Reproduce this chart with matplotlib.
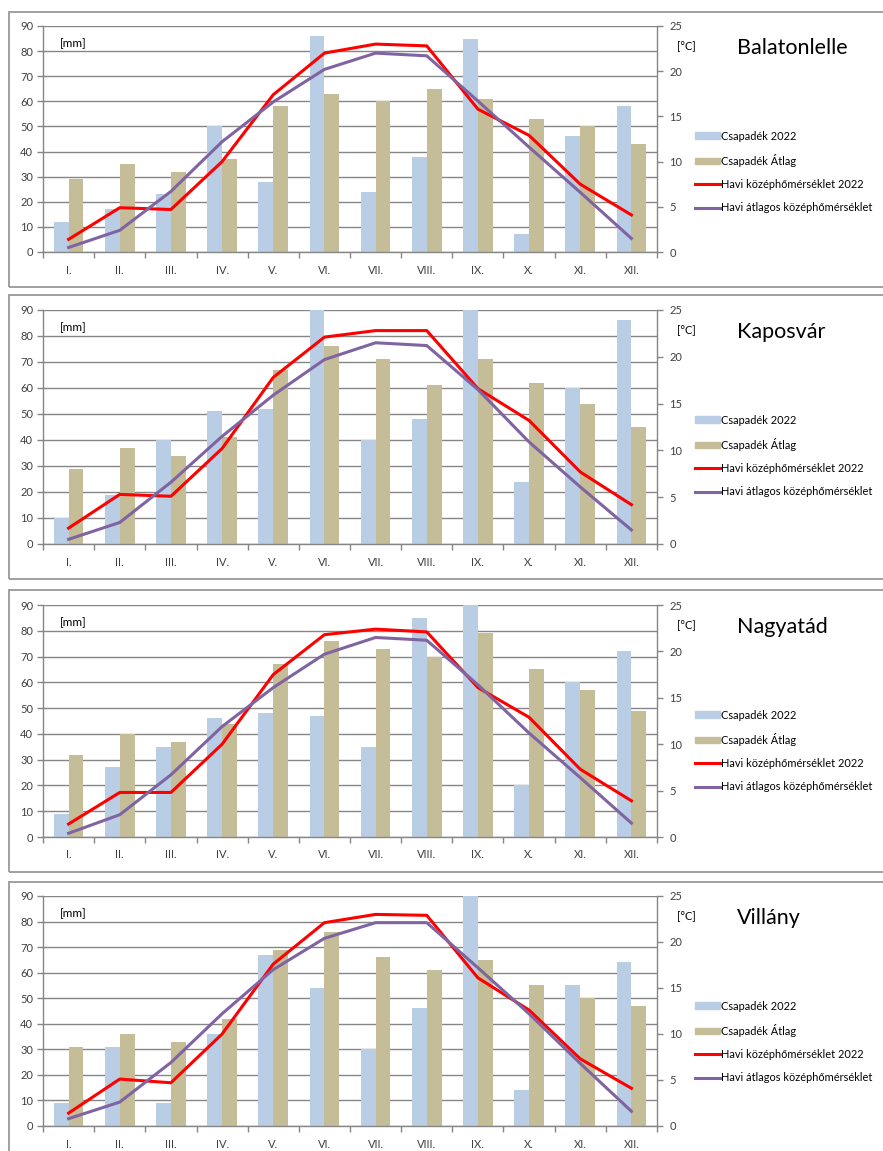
import numpy as np
import matplotlib
matplotlib.use("Agg")
import matplotlib.pyplot as plt
from matplotlib.patches import Rectangle, Patch
from matplotlib.lines import Line2D

plt.rcParams['font.family'] = ['Lato', 'DejaVu Sans']

months = ["I.", "II.", "III.", "IV.", "V.", "VI.", "VII.", "VIII.", "IX.", "X.", "XI.", "XII."]
stations = ["Balatonlelle", "Kaposvár", "Nagyatád", "Villány"]

# precipitation 2022 [mm]
rain_2022_balatonlelle = [12, 17, 23, 50, 28, 86, 24, 38, 85, 7, 46, 58]
rain_2022_kaposvar = [10, 19, 40, 51, 52, 90, 40, 48, 90, 24, 60, 86]
rain_2022_nagyatad = [9, 27, 35, 46, 48, 47, 35, 85, 90, 20, 60, 72]
rain_2022_villany = [9, 31, 9, 36, 67, 54, 30, 46, 90, 14, 55, 64]

# long-term average precipitation [mm]
rain_avg_balatonlelle = [29, 35, 32, 37, 58, 63, 60, 65, 61, 53, 50, 43]
rain_avg_kaposvar = [29, 37, 34, 41, 67, 76, 71, 61, 71, 62, 54, 45]
rain_avg_nagyatad = [32, 40, 37, 44, 67, 76, 73, 70, 79, 65, 57, 49]
rain_avg_villany = [31, 36, 33, 42, 69, 76, 66, 61, 65, 55, 50, 47]

# monthly mean temperature 2022 [°C]
temp_2022_balatonlelle = [1.4, 4.9, 4.7, 10.0, 17.4, 22.0, 23.0, 22.8, 15.8, 12.9, 7.5, 4.1]
temp_2022_kaposvar = [1.7, 5.3, 5.1, 10.2, 17.8, 22.1, 22.8, 22.8, 16.6, 13.2, 7.7, 4.2]
temp_2022_nagyatad = [1.4, 4.8, 4.8, 10.0, 17.5, 21.8, 22.4, 22.1, 16.1, 12.9, 7.3, 3.9]
temp_2022_villany = [1.4, 5.1, 4.7, 10.0, 17.6, 22.1, 23.0, 22.9, 16.1, 12.6, 7.3, 4.1]

# long-term average monthly temperature [°C]
temp_avg_balatonlelle = [0.5, 2.4, 6.7, 12.2, 16.6, 20.2, 22.0, 21.7, 16.7, 11.6, 6.6, 1.5]
temp_avg_kaposvar = [0.5, 2.3, 6.6, 11.5, 15.9, 19.7, 21.5, 21.2, 16.5, 10.9, 6.1, 1.5]
temp_avg_nagyatad = [0.4, 2.4, 6.7, 11.9, 16.1, 19.7, 21.5, 21.2, 16.4, 11.2, 6.4, 1.5]
temp_avg_villany = [0.8, 2.6, 6.9, 12.2, 17.0, 20.4, 22.1, 22.1, 17.2, 12.2, 6.8, 1.6]

rain_2022 = [rain_2022_balatonlelle, rain_2022_kaposvar, rain_2022_nagyatad, rain_2022_villany]
rain_avg = [rain_avg_balatonlelle, rain_avg_kaposvar, rain_avg_nagyatad, rain_avg_villany]
temp_2022 = [temp_2022_balatonlelle, temp_2022_kaposvar, temp_2022_nagyatad, temp_2022_villany]
temp_avg = [temp_avg_balatonlelle, temp_avg_kaposvar, temp_avg_nagyatad, temp_avg_villany]

W, H = 883, 1151
fig = plt.figure(figsize=(W / 100, H / 100), dpi=100)

# pixel layout: (frame top, frame bottom, plot top, plot bottom)
panels = [(12, 287, 26, 252), (295, 579, 310, 544), (590, 872, 605, 837), (882, 1165, 896, 1126)]
left_px, right_px = 43, 657

blue = '#B9CDE5'
tan = '#C4BD97'
red = '#FF0000'
purple = '#8064A2'
axis_col = '#868686'
txt_col = '#404040'

x = np.arange(12)
w = 0.29

for i, (ft, fb, pt, pb) in enumerate(panels):
    # panel frame
    fig.patches.append(Rectangle((9 / W, 1 - fb / H), 1.0, (fb - ft) / H,
                                 transform=fig.transFigure, fill=False,
                                 edgecolor='#999999', linewidth=1.3))

    ax = fig.add_axes([left_px / W, 1 - pb / H, (right_px - left_px) / W, (pb - pt) / H])
    ax.set_facecolor('none')
    ax.bar(x - w / 2, rain_2022[i], width=w, color=blue, zorder=2)
    ax.bar(x + w / 2, rain_avg[i], width=w, color=tan, zorder=2)
    ax.set_xlim(-0.5, 11.5)
    ax.set_ylim(0, 90)
    ax.set_yticks(range(0, 91, 10))
    ax.yaxis.grid(True, color=axis_col, linewidth=1.0)
    ax.set_axisbelow(True)
    ax.set_xticks(x)
    ax.set_xticklabels(months)
    ax.set_xticks(np.arange(-0.5, 12, 1), minor=True)
    ax.tick_params(axis='x', which='major', length=0, pad=9, labelsize=8, labelcolor=txt_col)
    ax.tick_params(axis='x', which='minor', length=4, color=axis_col, width=1)
    ax.tick_params(axis='y', length=4, color=axis_col, width=1, pad=3, labelsize=8, labelcolor=txt_col)
    for s in ['top', 'right']:
        ax.spines[s].set_visible(False)
    for s in ['left', 'bottom']:
        ax.spines[s].set_color(axis_col)
        ax.spines[s].set_linewidth(1)

    ax2 = ax.twinx()
    ax2.plot(x, temp_2022[i], color=red, linewidth=2.2)
    ax2.plot(x, temp_avg[i], color=purple, linewidth=2.2)
    ax2.set_ylim(0, 25)
    ax2.set_yticks(range(0, 26, 5))
    ax2.tick_params(axis='y', length=4, color=axis_col, width=1, pad=5, labelsize=8, labelcolor=txt_col)
    for s in ['top', 'left', 'bottom']:
        ax2.spines[s].set_visible(False)
    ax2.spines['right'].set_color(axis_col)
    ax2.spines['right'].set_linewidth(1)

    ph = pb - pt
    ax.text(0.028, 1 - 18 / ph, "[mm]", transform=ax.transAxes, fontsize=8.5,
            color='black', ha='left', va='center')
    ax2.text(1.032, 1 - 21 / ph, "[°C]", transform=ax2.transAxes, fontsize=8,
             color='black', ha='left', va='center')
    fig.text(737 / W, 1 - (pt + 22) / H, stations[i], fontsize=15.5,
             color='black', ha='left', va='center')

    handles = [Patch(color=blue), Patch(color=tan),
               Line2D([], [], color=red, linewidth=2.2),
               Line2D([], [], color=purple, linewidth=2.2)]
    labels = ["Csapadék 2022", "Csapadék Átlag",
              "Havi középhőmérséklet 2022", "Havi átlagos középhőmérséklet"]
    ax2.legend(handles, labels, loc='center left',
               bbox_to_anchor=(1 + (695 - right_px) / (right_px - left_px), 1 - 146 / ph),
               frameon=False, fontsize=7.9, handlelength=2.3, handleheight=0.6,
               handletextpad=0.1, labelspacing=1.12, borderpad=0, borderaxespad=0,
               labelcolor='black')

fig.savefig("out.png", dpi=100, facecolor='white')
